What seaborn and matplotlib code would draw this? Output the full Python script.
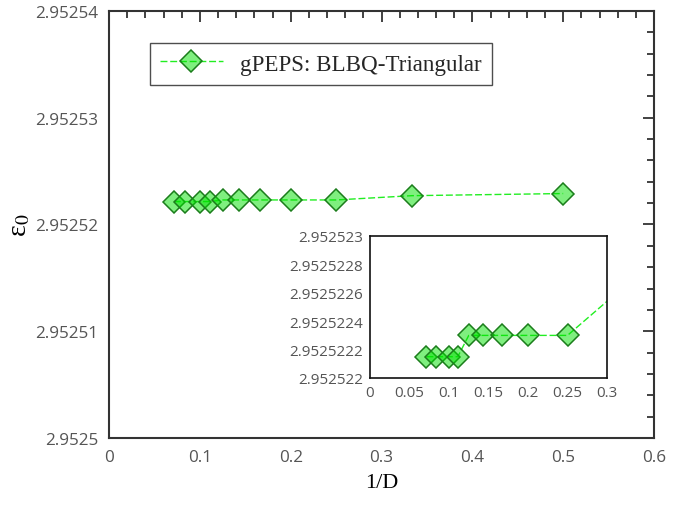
import matplotlib
matplotlib.use("Agg")
import matplotlib.pyplot as plt
import seaborn as sns
import pandas as pd
import numpy as np
from matplotlib.ticker import MultipleLocator, AutoMinorLocator, FuncFormatter, FixedLocator

# ---- data ----
D_values = [14, 12, 10, 9, 8, 7, 6, 5, 4, 3, 2]
inv_D = [1.0 / d for d in D_values]
energy = [2.95252215, 2.95252215, 2.95252215, 2.95252215,
          2.9525223, 2.9525223, 2.9525223, 2.9525223, 2.9525223,
          2.9525227, 2.9525229]
series_label = "gPEPS: BLBQ-Triangular"
inset_yticks = [2.952522, 2.9525222, 2.9525224, 2.9525226, 2.9525228, 2.952523]

df = pd.DataFrame({"invD": inv_D, "E": energy, "series": series_label})

sns.set_theme(style="white")
plt.rcParams['font.family'] = ['Open Sans', 'DejaVu Sans']
plt.rcParams['mathtext.fontset'] = 'stix'

fig = plt.figure(figsize=(6.93, 5.06), dpi=100)
ax = fig.add_axes([109/693, 1-439/506, (654-109)/693, (439-12)/506])
axin = fig.add_axes([370/693, 1-379/506, (607-370)/693, (379-237)/506])

line_kw = dict(color="#22ee22", linewidth=1.0, linestyle=(0, (5, 2)),
               marker="D", markersize=11.5,
               markerfacecolor=(0.0, 0.88, 0.0, 0.5),
               markeredgecolor="#1b7d1b", markeredgewidth=1.1)

sns.lineplot(data=df, x="invD", y="E", ax=ax, label=series_label,
             sort=True, errorbar=None, **line_kw)
sns.lineplot(data=df, x="invD", y="E", ax=axin, legend=False,
             sort=True, errorbar=None, **line_kw)

tick_color = "#555555"
spine_color = "#333333"

# main axes
ax.set_xlim(0, 0.6)
ax.set_ylim(2.9525, 2.95254)
ax.xaxis.set_major_locator(MultipleLocator(0.1))
ax.xaxis.set_minor_locator(AutoMinorLocator(5))
ax.yaxis.set_major_locator(MultipleLocator(0.00001))
ax.yaxis.set_minor_locator(AutoMinorLocator(5))
ax.xaxis.set_major_formatter(FuncFormatter(lambda v, p: f"{v:.1f}".rstrip('0').rstrip('.') if abs(v) > 1e-12 else "0"))
ax.yaxis.set_major_formatter(FuncFormatter(lambda v, p: f"{v:.5f}".rstrip('0').rstrip('.')))
ax.tick_params(which='both', direction='in', top=True, right=True,
               colors=spine_color, labelcolor=tick_color, labelsize=12.3, width=1.3)
ax.tick_params(which='major', length=8, pad=8)
ax.tick_params(which='minor', length=5)
for s in ax.spines.values():
    s.set_color(spine_color)
    s.set_linewidth(1.5)
ax.set_xlabel("1/D", fontfamily="Liberation Serif", fontsize=16, color="black", labelpad=6)
ax.set_ylabel("ε$_{0}$", fontfamily="Liberation Serif", fontsize=20, color="black", labelpad=2)

leg = ax.legend(loc="upper left", bbox_to_anchor=(0.075, 0.925), borderaxespad=0,
                frameon=True, fancybox=False, handlelength=2.7,
                borderpad=0.45, handletextpad=0.75,
                prop={"family": "Liberation Serif", "size": 16.6})
leg.get_frame().set_edgecolor("#222222")
leg.get_frame().set_linewidth(1.0)

# inset axes
axin.set_xlim(0, 0.3)
axin.set_ylim(inset_yticks[0], inset_yticks[-1])
axin.xaxis.set_major_locator(MultipleLocator(0.05))
axin.xaxis.set_minor_locator(AutoMinorLocator(5))
axin.yaxis.set_major_locator(FixedLocator(inset_yticks))
axin.yaxis.set_minor_locator(AutoMinorLocator(4))
axin.xaxis.set_major_formatter(FuncFormatter(lambda v, p: f"{v:.2f}".rstrip('0').rstrip('.') if abs(v) > 1e-12 else "0"))
axin.yaxis.set_major_formatter(FuncFormatter(lambda v, p: f"{v:.7f}".rstrip('0').rstrip('.')))
axin.tick_params(which='both', direction='in', top=False, right=False,
                 colors="#111111", labelcolor=tick_color, labelsize=11, width=1.0)
axin.tick_params(which='major', length=8, pad=5)
axin.tick_params(which='minor', length=5)
for s in axin.spines.values():
    s.set_color("#111111")
    s.set_linewidth(1.2)
axin.set_xlabel("")
axin.set_ylabel("")

fig.savefig("out.png", dpi=100)
